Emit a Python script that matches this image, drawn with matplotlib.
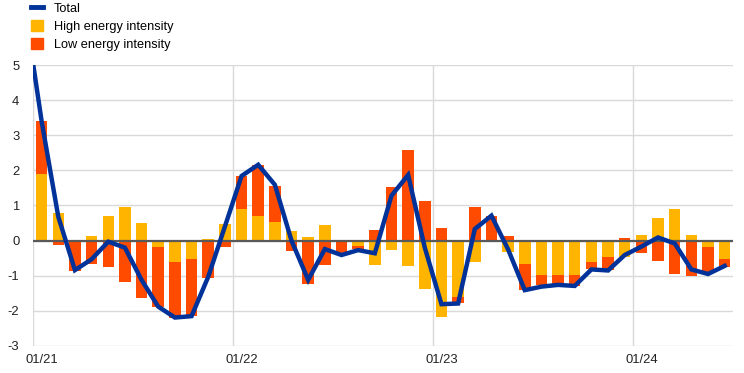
import matplotlib
matplotlib.use("Agg")
import matplotlib.pyplot as plt
import numpy as np
from matplotlib.patches import Patch
from matplotlib.lines import Line2D

plt.rcParams['font.family'] = ['Liberation Sans', 'DejaVu Sans']
plt.rcParams['axes.unicode_minus'] = False

# Monthly data, 01/21 .. 06/24
high = [1.90, 0.79, -0.02, 0.13, 0.71, 0.97, 0.50, -0.18, -0.61, -0.52, 0.05, 0.47,
        0.90, 0.71, 0.53, 0.28, 0.10, 0.45, -0.05, -0.15, -0.69, -0.27, -0.72, -1.38,
        -2.17, -1.60, -0.61, 0.00, -0.32, -0.66, -0.98, -0.98, -0.98, -0.61, -0.46, -0.47,
        0.16, 0.64, 0.90, 0.16, -0.17, -0.52]
low = [1.50, -0.12, -0.84, -0.66, -0.75, -1.17, -1.63, -1.70, -1.58, -1.62, -1.05, -0.17,
       0.94, 1.45, 1.03, -0.29, -1.23, -0.69, -0.30, -0.10, 0.30, 1.54, 2.58, 1.13,
       0.35, -0.17, 0.96, 0.71, 0.13, -0.75, -0.28, -0.28, -0.31, -0.21, -0.39, 0.07,
       -0.34, -0.57, -0.95, -1.00, -0.71, -0.22]
# Total line; first value is 12/20 (outside the visible range, clipped)
total = [6.6, 3.40, 0.68, -0.84, -0.53, -0.03, -0.20, -1.12, -1.88, -2.19, -2.15, -1.03, 0.40,
         1.84, 2.16, 1.59, 0.00, -1.12, -0.24, -0.41, -0.27, -0.36, 1.28, 1.87, -0.20,
         -1.81, -1.79, 0.33, 0.71, -0.25, -1.41, -1.31, -1.26, -1.29, -0.82, -0.85, -0.41,
         -0.17, 0.09, -0.08, -0.82, -0.95, -0.72]
tick_labels = ["01/21", "01/22", "01/23", "01/24"]
tick_months = [0, 12, 24, 36]

c_high = "#FFB400"
c_low = "#FF4B00"
c_total = "#003299"

fig = plt.figure(figsize=(7.44, 3.73), dpi=100)
ax = fig.add_axes([33.3/744, 1-346/373, (733-33.3)/744, (346-65)/373])

n = len(high)
x = np.arange(n) + 0.5
high_a = np.array(high)
low_a = np.array(low)
pos_base = np.zeros(n)
neg_base = np.zeros(n)
for vals, col in ((high_a, c_high), (low_a, c_low)):
    bottoms = np.where(vals >= 0, pos_base, neg_base)
    ax.bar(x, vals, bottom=bottoms, width=0.69, color=col, zorder=2, linewidth=0)
    pos_base = pos_base + np.where(vals >= 0, vals, 0)
    neg_base = neg_base + np.where(vals < 0, vals, 0)

ax.axhline(0, color="#595959", lw=1.6, zorder=3)
xl = np.arange(len(total)) - 0.5
ax.plot(xl, total, color=c_total, lw=3.2, zorder=4, solid_joinstyle='miter')

ax.set_xlim(0, n)
ax.set_ylim(-3, 5)
ax.set_yticks(range(-3, 6))
ax.set_xticks([m + 0.5 for m in tick_months])
ax.set_xticklabels(tick_labels)
ax.set_xticks(tick_months, minor=True)
ax.grid(axis='y', color="#d9d9d9", lw=1.0, zorder=0)
ax.grid(axis='x', which='minor', color="#d9d9d9", lw=1.0, zorder=0)
ax.tick_params(axis='both', which='both', length=0, labelsize=9.4, colors="#222222")
ax.tick_params(axis='y', pad=10)
ax.tick_params(axis='x', pad=6)
for s in ax.spines.values():
    s.set_visible(False)

handles = [Line2D([], [], color=c_total, lw=3.5),
           Patch(color=c_high), Patch(color=c_low)]
labels = ["Total", "High energy intensity", "Low energy intensity"]
fig.legend(handles, labels, loc='upper left', bbox_to_anchor=(30/744, 1 - 1/373),
           frameon=False, fontsize=9.2, handlelength=0.9, handleheight=0.9,
           handletextpad=0.85, labelspacing=0.42, borderpad=0.1, borderaxespad=0)

fig.savefig("out.png", dpi=100)
